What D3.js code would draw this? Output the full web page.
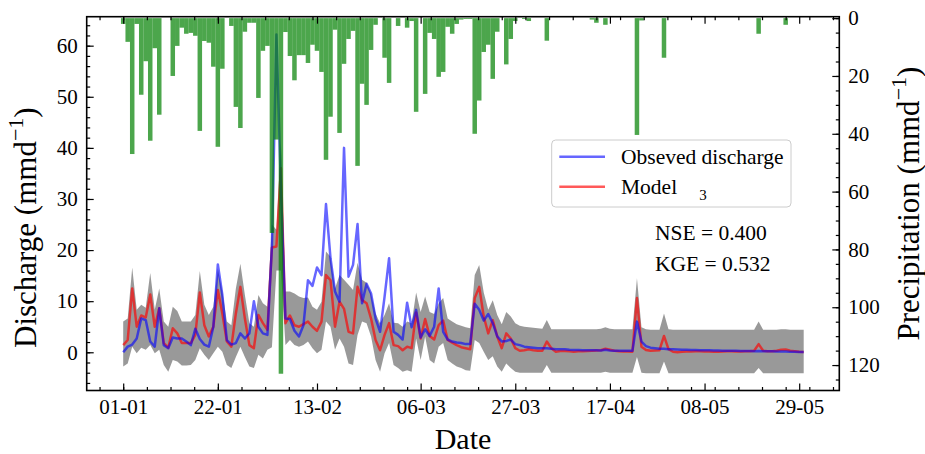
<!DOCTYPE html>
<html>
<head>
<meta charset="utf-8">
<script src="https://cdn.jsdelivr.net/npm/d3@7"></script>
<style>
    body { margin: 0; background: #fff; }
    svg text { font-family: "Liberation Serif", "Times New Roman", serif; fill: #000; }
</style>
</head>
<body>
<div id="hydro-chart"></div>
<script>

// x axis: day index from 01-01, tick labels as printed on the chart
var tickDays = [0, 21, 43, 66, 87, 108, 129, 150];
var tickLabels = ["01-01", "22-01", "13-02", "06-03", "27-03", "17-04", "08-05", "29-05"];
var dischargeTicks = [0, 10, 20, 30, 40, 50, 60];
var precipTicks = [0, 20, 40, 60, 80, 100, 120];

// observed discharge (mm/d), one value per day
var observed = [
    0, 1.1, 1.5, 2.7, 6.6, 6.3, 2.1, 1.1, 8.6, 1.4,
    0.8, 2.9, 2.7, 2.7, 2.1, 1.4, 4.6, 2.6, 1.5, 1.1,
    5.0, 17.2, 11.2, 2.4, 1.5, 1.8, 3.7, 2.7, 3.7, 10.0,
    5.0, 3.7, 3.4, 20.7, 62.2, 32.0, 6.6, 6.5, 4.2, 3.1,
    5.3, 14.1, 13.0, 16.6, 15.1, 29.0, 18.4, 11.9, 9.9, 40.0,
    14.8, 17.1, 25.1, 9.6, 13.4, 11.5, 6.6, 4.0, 10.9, 18.4,
    4.0, 3.4, 2.5, 9.7, 4.9, 8.3, 2.9, 4.5, 3.2, 5.0,
    12.5, 4.0, 2.5, 2.1, 1.9, 1.8, 1.6, 1.6, 9.5, 8.3,
    6.2, 7.5, 5.7, 3.1, 2.1, 2.2, 2.5, 1.6, 1.4, 1.1,
    1.0, 0.9, 0.8, 0.8, 0.8, 0.7, 0.6, 0.6, 0.6, 0.5,
    0.45, 0.45, 0.4, 0.4, 0.4, 0.4, 0.35, 0.5, 0.35, 0.3,
    0.3, 0.3, 0.3, 0.3, 6.0, 2.1, 1.2, 0.9, 0.8, 0.7,
    0.7, 0.6, 0.6, 0.55, 0.5, 0.5, 0.45, 0.45, 0.4, 0.4,
    0.4, 0.35, 0.35, 0.3, 0.3, 0.3, 0.3, 0.25, 0.25, 0.25,
    0.2, 0.25, 0.2, 0.2, 0.2, 0.15, 0.15, 0.15, 0.1, 0.1,
    0.05, 0.05
];

// model 3 simulated discharge
var model = [
    1.4, 2.4, 12.5, 5.0, 7.2, 6.8, 11.3, 5.0, 8.6, 1.8,
    0.9, 4.7, 3.7, 1.8, 1.8, 1.8, 3.4, 11.7, 5.3, 3.1,
    5.0, 12.2, 7.6, 2.1, 1.1, 7.6, 12.8, 6.6, 1.4, 0.8,
    7.3, 5.7, 4.4, 20.5, 20.7, 36.0, 5.7, 7.2, 5.3, 5.0,
    5.5, 6.0, 5.0, 4.2, 6.0, 15.1, 14.1, 5.0, 9.9, 8.5,
    4.0, 3.7, 12.8, 10.2, 9.6, 6.6, 2.4, 0.4, 3.4, 5.7,
    1.4, 1.2, 0.4, 1.1, 0.8, 7.8, 2.7, 6.5, 3.2, 2.5,
    5.3, 6.2, 2.4, 1.9, 1.4, 1.0, 0.8, 0.6, 10.6, 12.8,
    7.0, 3.7, 6.3, 3.1, 0.8, 3.7, 2.7, 0.8, 0.3, 0.4,
    0.6, 0.4, 0.3, 0.3, 2.1, 0.8, 0.1, 0.25, 0.25, 0.2,
    0.1, 0.2, 0.2, 0.25, 0.3, 0.35, 0.4, 0.7, 0.5, 0.3,
    0.2, 0.15, 0.15, 0.1, 10.6, 1.1, 0.45, 0.3, 0.35, 0.4,
    3.2, 0.6, 0.1, 0.0, 0.1, 0.15, 0.15, 0.2, 0.2, 0.15,
    0.15, 0.1, 0.1, 0.15, 0.2, 0.2, 0.15, 0.15, 0.2, 0.2,
    0.3, 1.6, 0.3, 0.2, 0.2, 0.3, 0.5, 0.55, 0.3, 0.2,
    0.1, 0.05
];

// uncertainty band (lower / upper)
var bandLow = [
    -2.8, -2.2, 1.1, -0.2, 0.9, 0.5, 1.4, -0.2, 0.5, -2.5,
    -3.8, -1.5, -1.8, -2.6, -2.6, -2.5, -1.5, 0.8, -0.5, -1.5,
    -0.2, 1.1, 0.1, -2.5, -3.1, -0.9, 1.1, -0.9, -2.8, -3.1,
    -0.5, -1.2, 0.5, 1.0, 16.0, 16.0, 1.4, 2.4, 1.4, 1.1,
    1.4, 2.1, 0.8, -0.2, 0.5, 6.0, 5.0, 0.5, 2.7, 1.1,
    -2.2, -2.5, 3.4, 6.0, 5.7, 3.1, -1.5, -3.8, -0.2, 1.8,
    -2.5, -3.1, -3.8, -3.5, -3.8, 2.7, -1.5, 3.1, -1.5, -2.2,
    1.1, 1.8, -1.5, -2.2, -2.8, -3.1, -3.5, -3.6, 2.4, 1.8,
    0.1, -1.5, -0.8, -2.8, -3.8, -2.2, -3.1, -3.8, -4.0, -4.0,
    -4.0, -4.0, -4.0, -4.0, -2.5, -4.0, -4.0, -4.0, -4.0, -4.0,
    -4.0, -4.0, -4.0, -4.0, -4.0, -4.0, -4.0, -3.8, -4.0, -4.0,
    -4.0, -4.0, -4.0, -4.0, -0.9, -4.0, -4.1, -4.1, -4.1, -4.1,
    -1.8, -4.1, -4.1, -4.1, -4.1, -4.1, -4.1, -4.1, -4.1, -4.1,
    -4.1, -4.1, -4.1, -4.1, -4.1, -4.1, -4.1, -4.1, -4.1, -4.1,
    -4.1, -3.1, -4.1, -4.1, -4.1, -4.1, -4.1, -4.1, -4.1, -4.1,
    -4.1, -4.1
];
var bandHigh = [
    6.0, 6.6, 16.6, 8.3, 9.3, 8.7, 15.5, 8.3, 12.5, 6.0,
    5.0, 8.9, 8.1, 6.0, 6.0, 6.0, 7.3, 15.9, 9.3, 7.3,
    8.9, 16.4, 11.9, 6.0, 5.3, 12.5, 17.3, 11.2, 5.7, 5.0,
    11.2, 9.6, 8.9, 25.0, 24.0, 40.9, 11.9, 11.9, 11.5, 10.9,
    10.6, 10.7, 8.9, 8.3, 9.9, 19.7, 18.7, 12.5, 15.1, 14.2,
    13.2, 12.2, 17.5, 14.2, 13.6, 11.5, 7.6, 5.7, 7.3, 9.6,
    5.8, 5.7, 5.0, 6.0, 5.7, 11.7, 7.9, 10.9, 7.9, 7.5,
    9.6, 10.6, 6.6, 6.0, 5.5, 5.2, 4.9, 4.7, 15.1, 17.1,
    11.7, 8.3, 10.2, 7.3, 5.5, 7.9, 7.0, 5.7, 5.2, 5.0,
    4.9, 4.8, 4.7, 4.6, 6.3, 4.5, 4.5, 4.5, 4.5, 4.5,
    4.5, 4.5, 4.5, 4.5, 4.5, 4.5, 4.6, 4.9, 4.6, 4.5,
    4.5, 4.5, 4.5, 4.5, 14.5, 4.9, 4.5, 4.4, 4.4, 4.4,
    7.6, 4.5, 4.4, 4.4, 4.4, 4.4, 4.4, 4.4, 4.4, 4.4,
    4.4, 4.4, 4.4, 4.4, 4.4, 4.4, 4.4, 4.4, 4.4, 4.4,
    4.4, 6.0, 4.4, 4.4, 4.4, 4.4, 4.5, 4.5, 4.4, 4.4,
    4.4, 4.4
];

// daily precipitation (mm/d), drawn from the top
var precipitation = [
    2, 8.2, 47, 2, 26.5, 14.9, 42.4, 10.4, 33.4, 0,
    0, 20, 9.6, 3.3, 5.4, 5.1, 6.1, 39, 7.9, 8.5,
    16.8, 44.5, 17.5, 0, 2.7, 30.7, 38, 4.7, 1.6, 1.6,
    27.6, 11.3, 9.6, 74.3, 42, 123, 4.8, 13.1, 21.5, 12.8,
    12.8, 15.5, 9.2, 11.3, 18.6, 49, 34.1, 4, 39.7, 15.8,
    7.2, 4.4, 51.1, 22.7, 30, 11, 2.3, 0, 13.7, 22.4,
    0, 2.7, 0, 3.3, 1.0, 32.4, 0, 26.2, 5.1, 7.2,
    20.3, 18.6, 3, 5.4, 2, 0.5, 0.3, 0.3, 40, 28.5,
    11.7, 9.2, 21, 4.7, 0, 16, 7.2, 1.0, 0, 0.3,
    1, 0, 0, 0, 7.8, 0, 0, 0, 0, 0,
    0, 0, 0, 0, 0.5, 1.6, 0, 2.3, 0, 0,
    0, 0, 0, 0, 40.4, 0.8, 0, 0, 0, 0,
    13.7, 0, 0, 0, 0, 0, 0, 0, 0, 0,
    0, 0, 0, 0, 0, 0, 0, 0, 0, 0,
    0, 5.4, 0, 0, 0, 0, 0, 2.3, 0, 0,
    0, 0
];

var scores = ["NSE = 0.400", "KGE = 0.532"];


/*
 * HydroVis - discharge lines + band, precipitation bars on a flipped twin axis
 */
HydroVis = function(_parentElement) {
    this.parentElement = _parentElement;
    this.initVis();
};

HydroVis.prototype.initVis = function() {
    var vis = this;

    vis.margin = {top: 16.7, right: 85.7, bottom: 63.5, left: 86.7};
    vis.width = 925 - vis.margin.left - vis.margin.right;
    vis.height = 454 - vis.margin.top - vis.margin.bottom;

    vis.root = d3.select("#" + vis.parentElement).append("svg")
        .attr("width", 925)
        .attr("height", 454);

    vis.svg = vis.root.append("g")
        .attr("transform", "translate(" + vis.margin.left + "," + vis.margin.top + ")");

    vis.x = d3.scaleLinear().domain([-8.1, 158.9]).range([0, vis.width]);
    vis.y = d3.scaleLinear().domain([-7.48, 65.67]).range([vis.height, 0]);
    // precipitation axis is inverted (0 at the top)
    vis.yP = d3.scaleLinear().domain([-0.5, 128.8]).range([0, vis.height]);

    vis.updateVis();
};

HydroVis.prototype.updateVis = function() {
    var vis = this;

    // uncertainty band
    var band = d3.area()
        .x(function(d, i) { return vis.x(i); })
        .y0(function(d, i) { return vis.y(bandLow[i]); })
        .y1(function(d) { return vis.y(d); });

    vis.svg.append("path")
        .datum(bandHigh)
        .attr("d", band)
        .attr("fill", "#808080")
        .attr("fill-opacity", 0.8);

    var line = d3.line()
        .x(function(d, i) { return vis.x(i); })
        .y(function(d) { return vis.y(d); });

    vis.svg.append("path")
        .datum(model)
        .attr("d", line)
        .attr("fill", "none")
        .attr("stroke", "red")
        .attr("stroke-opacity", 0.65)
        .attr("stroke-width", 2.5)
        .attr("stroke-linejoin", "round");

    vis.svg.append("path")
        .datum(observed)
        .attr("d", line)
        .attr("fill", "none")
        .attr("stroke", "blue")
        .attr("stroke-opacity", 0.6)
        .attr("stroke-width", 2.5)
        .attr("stroke-linejoin", "round");

    // precipitation bars sit on the twin axis, so they are drawn over the lines
    var barW = vis.x(1) - vis.x(0);
    var rain = precipitation.map(function(p, i) { return {day: i, p: p}; })
        .filter(function(d) { return d.p > 0; });

    vis.svg.append("g").selectAll("rect")
        .data(rain)
        .enter()
        .append("rect")
        .attr("x", function(d) { return vis.x(d.day) - barW / 2; })
        .attr("y", vis.yP(0))
        .attr("width", barW)
        .attr("height", function(d) { return vis.yP(d.p) - vis.yP(0); })
        .attr("fill", "green")
        .attr("fill-opacity", 0.7);

    vis.drawAxes();
    vis.drawLegend();
};

HydroVis.prototype.drawAxes = function() {
    var vis = this;

    var minorDays = d3.range(-1, 31).map(function(k) { return k * 5.25; })
        .filter(function(d) { return d > vis.x.domain()[0] && d < vis.x.domain()[1]; });

    // bottom + mirrored top ticks, pointing inwards
    vis.svg.append("g")
        .attr("class", "axis")
        .attr("transform", "translate(0," + vis.height + ")")
        .call(d3.axisBottom(vis.x).tickValues(minorDays).tickFormat("").tickSizeInner(-3.5).tickSizeOuter(0));
    vis.svg.append("g")
        .attr("class", "axis x-major")
        .attr("transform", "translate(0," + vis.height + ")")
        .call(d3.axisBottom(vis.x).tickValues(tickDays)
            .tickFormat(function(d, i) { return tickLabels[i]; })
            .tickSizeInner(-7).tickSizeOuter(0).tickPadding(9));
    vis.svg.append("g")
        .attr("class", "axis")
        .call(d3.axisTop(vis.x).tickValues(minorDays).tickFormat("").tickSizeInner(-3.5).tickSizeOuter(0));
    vis.svg.append("g")
        .attr("class", "axis")
        .call(d3.axisTop(vis.x).tickValues(tickDays).tickFormat("").tickSizeInner(-7).tickSizeOuter(0));

    // left: discharge
    vis.svg.append("g")
        .attr("class", "axis")
        .call(d3.axisLeft(vis.y).tickValues(d3.range(-6, 66, 2)).tickFormat("").tickSizeInner(-3.5).tickSizeOuter(0));
    vis.svg.append("g")
        .attr("class", "axis")
        .call(d3.axisLeft(vis.y).tickValues(dischargeTicks).tickSizeInner(-7).tickSizeOuter(0).tickPadding(9));

    // right: precipitation
    vis.svg.append("g")
        .attr("class", "axis")
        .attr("transform", "translate(" + vis.width + ",0)")
        .call(d3.axisRight(vis.yP).tickValues(d3.range(0, 129, 5)).tickFormat("").tickSizeInner(-3.5).tickSizeOuter(0));
    vis.svg.append("g")
        .attr("class", "axis")
        .attr("transform", "translate(" + vis.width + ",0)")
        .call(d3.axisRight(vis.yP).tickValues(precipTicks).tickSizeInner(-7).tickSizeOuter(0).tickPadding(9));

    vis.svg.selectAll(".axis .domain").remove();
    vis.svg.selectAll(".axis line").attr("stroke", "#000").attr("stroke-width", 1.2);
    vis.svg.selectAll(".axis text")
        .style("font-size", "21px")
        .style("font-family", "'Liberation Serif', 'Times New Roman', serif");

    // frame
    vis.svg.append("rect")
        .attr("width", vis.width)
        .attr("height", vis.height)
        .attr("fill", "none")
        .attr("stroke", "#000")
        .attr("stroke-width", 1.6);

    // axis titles
    vis.root.append("text")
        .attr("x", 463)
        .attr("y", 449)
        .attr("text-anchor", "middle")
        .style("font-size", "30px")
        .text("Date");

    var yl = vis.root.append("text")
        .attr("transform", "translate(36,348) rotate(-90)")
        .attr("text-anchor", "start")
        .style("font-size", "31px");
    yl.append("tspan").text("Discharge (mmd");
    yl.append("tspan").attr("dy", -13).style("font-size", "22px").text("\u22121");
    yl.append("tspan").attr("dy", 13).text(")");

    var yr = vis.root.append("text")
        .attr("transform", "translate(919,203.6) rotate(-90)")
        .attr("text-anchor", "middle")
        .style("font-size", "31px");
    yr.append("tspan").text("Precipitation (mmd");
    yr.append("tspan").attr("dy", -13).style("font-size", "22px").text("\u22121");
    yr.append("tspan").attr("dy", 13).text(")");
};

HydroVis.prototype.drawLegend = function() {
    var vis = this;

    var legend = vis.root.append("g").attr("transform", "translate(551.7,140)");

    legend.append("rect")
        .attr("width", 239.3)
        .attr("height", 67)
        .attr("rx", 4)
        .attr("fill", "#fff")
        .attr("fill-opacity", 0.8)
        .attr("stroke", "#cccccc")
        .attr("stroke-width", 1);

    var entries = [
        {label: "Obseved discharge", color: "blue", op: 0.6},
        {label: "Model", color: "red", op: 0.65}
    ];

    entries.forEach(function(e, i) {
        var yy = 16.7 + i * 30;
        legend.append("line")
            .attr("x1", 7.6).attr("x2", 53.3)
            .attr("y1", yy).attr("y2", yy)
            .attr("stroke", e.color)
            .attr("stroke-opacity", e.op)
            .attr("stroke-width", 2.5);
        var t = legend.append("text")
            .attr("x", 69.3)
            .attr("y", yy + 7.5)
            .style("font-size", "21.5px")
            .text(e.label);
        if (i == 1) {
            t.append("tspan").attr("dx", 22).attr("dy", 5.5).style("font-size", "15px").text("3");
        }
    });

    // scores
    scores.forEach(function(s, i) {
        vis.root.append("text")
            .attr("x", 655)
            .attr("y", 240 + i * 31)
            .style("font-size", "21.5px")
            .text(s);
    });
};

var hydroVis = new HydroVis("hydro-chart");

</script>
</body>
</html>
